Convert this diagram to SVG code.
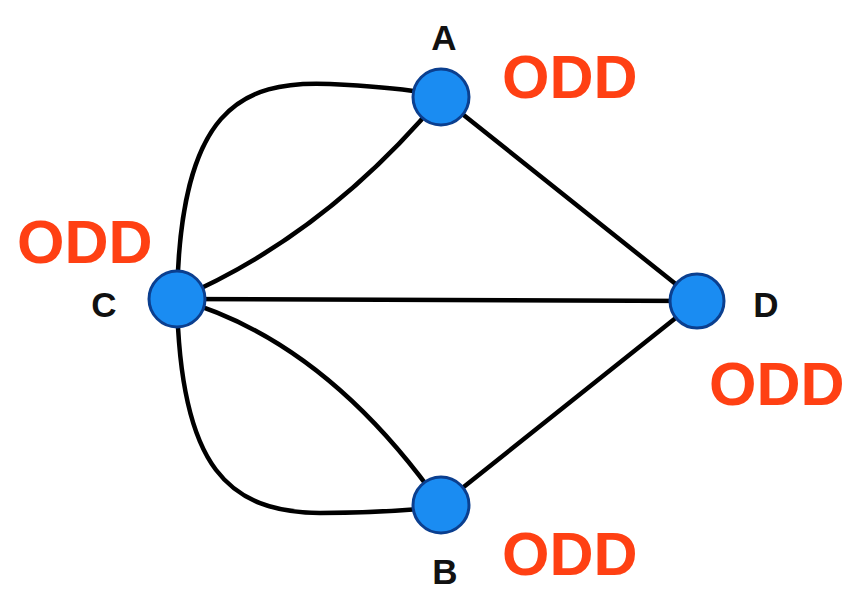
<svg xmlns="http://www.w3.org/2000/svg" width="845" height="593" viewBox="0 0 845 593">
<style>
.e{fill:none;stroke:#000;stroke-width:4.5;stroke-linecap:round}
.n{fill:#1a8cf2;stroke:#0b3f8f;stroke-width:3}
.l{font-family:"Liberation Sans",Arial,sans-serif;font-weight:bold;font-size:35px;fill:#111;text-anchor:middle}
.o{font-family:"Liberation Sans",Arial,sans-serif;font-weight:bold;font-size:61px;fill:#ff4013}
</style>
<rect width="845" height="593" fill="#fff"/>
<g id="connectors">
<path class="e" d="M441,97 L697,301"/>
<path class="e" d="M441,505 L697,301"/>
<path class="e" d="M177,299 L697,301"/>
<path class="e" d="M177,299 Q325,236 441,97"/>
<path class="e" d="M177,299 C180,110 240,80 330,84 C370,86 395,88 420,92"/>
<path class="e" d="M177,299 Q325,340 441,505"/>
<path class="e" d="M177,299 C180,470 230,512 320,513 C370,513 395,511 420,509"/>
</g>
<g id="node-A"><circle class="n" cx="441" cy="97" r="28"/><text class="l" x="444" y="50">A</text></g>
<g id="node-C"><circle class="n" cx="177" cy="299" r="28"/><text class="l" x="104" y="317">C</text></g>
<g id="node-D"><circle class="n" cx="697" cy="301" r="27"/><text class="l" x="766" y="317">D</text></g>
<g id="node-B"><circle class="n" cx="441" cy="505" r="28"/><text class="l" x="445" y="584">B</text></g>
<text class="o" x="502" y="98">ODD</text>
<text class="o" x="17" y="263">ODD</text>
<text class="o" x="709" y="405" font-size="59">ODD</text>
<text class="o" x="502" y="575">ODD</text>
</svg>
